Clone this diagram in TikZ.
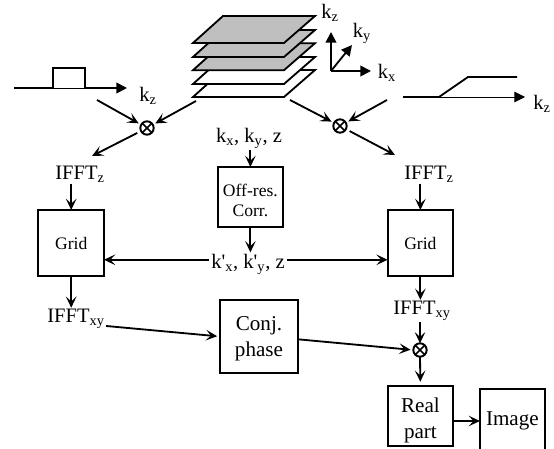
\documentclass[tikz,border=0pt]{standalone}
\usetikzlibrary{arrows.meta}
\usepackage{fontspec}
\setmainfont{Liberation Serif}
\newcommand{\lsub}[1]{\textsubscript{#1}}

\begin{document}
\begin{tikzpicture}[line width=1.3pt,>={Stealth[length=8pt,width=7.5pt,inset=3.5pt]},
  blockbox/.style={draw,inner sep=0pt,outer sep=0pt,align=center,font=\fontsize{15}{18.5}\selectfont},
  smalltxt/.style={font=\fontsize{12.5}{14}\selectfont},
  lbl/.style={inner sep=1pt,outer sep=0pt,font=\fontsize{14.6}{17}\selectfont},
  mult/.style={circle,draw,line width=1.4pt,minimum size=9.5pt,inner sep=0pt,outer sep=0pt,
    path picture={\draw[line width=1.2pt] (path picture bounding box.north west) -- (path picture bounding box.south east)
      (path picture bounding box.north east) -- (path picture bounding box.south west);}},
  axisarrow/.style={-{Triangle[length=7.5pt,width=7.5pt]}}]
\clip (0,0) rectangle (13.85,11.225);
% ---- stack of planes, lowest first ----
\foreach \y/\c in {8.8/white,9.125/white,9.47/black!25,9.8/black!25,10.15/black!25}{
  \draw[fill=\c] (4.825,\y) -- (5.575,\y+0.675) -- (7.875,\y+0.675) -- (7.1,\y) -- cycle;
}
% ---- axes ----
\coordinate (origin) at (8.275,9.45);
\coordinate (axz) at (8.275,10.425);
\coordinate (axy) at (8.8,10.1);
\coordinate (axx) at (9.275,9.45);
\draw[axisarrow] (origin) -- (axz);
\draw[axisarrow] (origin) -- (axy);
\draw[axisarrow] (origin) -- (axx);
\node[lbl] (lkz) at (8.25,10.9) {k\lsub{z}};
\node[lbl] (lky) at (9.05,10.4) {k\lsub{y}};
\node[lbl] (lkx) at (9.675,9.4) {k\lsub{x}};
% ---- filter profiles ----
\coordinate (pa) at (0.35,9.025);
\coordinate (pb) at (1.325,9.025);
\coordinate (pc) at (2.125,9.025);
\coordinate (pd) at (3.175,9.025);
\draw (pa) -- (pb) -- (1.325,9.525) -- (2.125,9.525) -- (pc);
\draw[line width=0.4pt] (pb) -- (pc);
\draw[axisarrow] (pc) -- (pd);
\node[lbl] (lkzl) at (3.7,8.83) {k\lsub{z}};
\coordinate (ra) at (10.075,8.8);
\coordinate (rb) at (10.975,8.8);
\coordinate (rc) at (13.125,8.8);
\draw (ra) -- (rb) -- (11.7,9.3) -- (12.925,9.3);
\draw[line width=0.5pt,axisarrow] (rb) -- (rc);
\node[lbl] (lkzr) at (13.55,8.63) {k\lsub{z}};
% ---- blocks and labels ----
\node[mult] (mta) at (3.675,8.025) {};
\node[mult] (mtb) at (8.5,8.075) {};
\node[mult] (mtc) at (10.5,2.475) {};
\node[lbl] (ifftzl) at (2.0,6.875) {IFFT\lsub{z}};
\node[lbl] (ifftzr) at (10.725,6.875) {IFFT\lsub{z}};
\node[blockbox,smalltxt,minimum width=1.64cm,minimum height=1.65cm] (gridl) at (1.78,5.15) {Grid};
\node[blockbox,smalltxt,minimum width=1.64cm,minimum height=1.65cm] (gridr) at (10.51,5.15) {Grid};
\node[lbl] (kxyz) at (6.225,7.775) {k\lsub{x}, k\lsub{y}, z};
\node[blockbox,smalltxt,font=\fontsize{12.5}{14.5}\selectfont,minimum width=1.625cm,minimum height=1.5cm] (offres) at (6.26,6.3) {\rule{0pt}{14pt}Off-res.\\Corr.};
\node[lbl] (kprime) at (6.2,4.625) {k\textquotesingle\lsub{x}, k\textquotesingle\lsub{y}, z};
\node[blockbox,minimum width=1.95cm,minimum height=1.825cm] (conj) at (6.475,2.8125) {\rule{0pt}{13pt}Conj.\\phase};
\node[lbl] (ifftxyl) at (1.9,3.25) {IFFT\lsub{xy}};
\node[lbl] (ifftxyr) at (10.55,3.45) {IFFT\lsub{xy}};
\node[blockbox,minimum width=1.625cm,minimum height=1.5cm] (real) at (10.51,0.825) {\rule{0pt}{16.5pt}Real\\part};
\node[blockbox,minimum width=1.625cm,minimum height=1.6cm] (image) at (12.81,0.7) {Image};
% ---- free ends ----
\coordinate (sa) at (2.425,8.725);
\coordinate (sb) at (4.9,8.7);
\coordinate (sc) at (7.25,8.725);
\coordinate (sd) at (9.675,8.725);
\coordinate (ea) at (2.3,7.325);
\coordinate (eb) at (9.875,7.35);
% ---- connectors ----
\draw[->,shorten >=2pt] (sa) -- (mta);
\draw[->,shorten >=2pt] (sb) -- (mta);
\draw[->,shorten <=3pt] (mta) -- (ea);
\draw[->,shorten >=2pt] (sc) -- (mtb);
\draw[->,shorten >=2pt] (sd) -- (mtb);
\draw[->,shorten <=3pt] (mtb) -- (eb);
\draw[->] (gridl.north |- ifftzl.south) -- (gridl.north);
\draw[->] (gridr.north |- ifftzr.south) -- (gridr.north);
\draw[->] (offres.north |- kxyz.south) -- (offres.north);
\draw[->] (offres.south) -- (offres.south |- kprime.north);
\draw[->,shorten <=1pt] ([yshift=3pt]kprime.west) -- ([yshift=3pt]kprime.west -| gridl.east);
\draw[->,shorten <=1pt] ([yshift=3pt]kprime.east) -- ([yshift=3pt]kprime.east -| gridr.west);
\draw[->] (gridl.south) -- (gridl.south |- ifftxyl.north);
\draw[->] (gridr.south) -- (gridr.south |- ifftxyr.north);
\draw[->,shorten >=2pt] ([yshift=3pt]ifftxyl.south east) -- (conj.west);
\draw[->] (mtc.north |- ifftxyr.south) -- (mtc.north);
\draw[->,shorten >=2pt] ([yshift=-2pt]conj.east) -- (mtc.west);
\draw[->,shorten >=3pt] (mtc.south) -- (real.north);
\draw[->] (real.east |- image.west) -- (image.west);
\end{tikzpicture}
\end{document}
